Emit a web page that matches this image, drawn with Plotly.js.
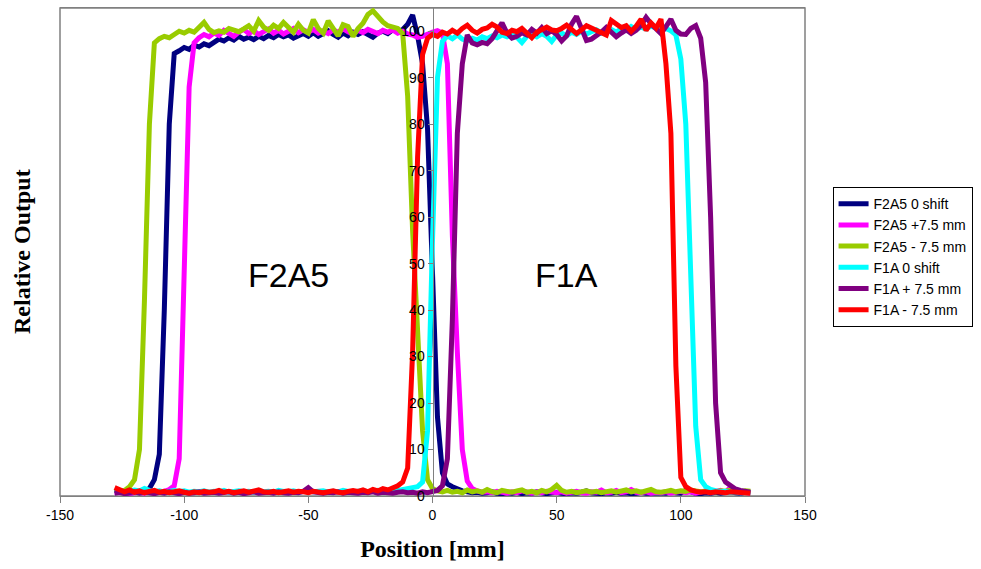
<!DOCTYPE html>
<html>
<head>
<meta charset="utf-8">
<script src="https://cdn.plot.ly/plotly-3.0.1.min.js"></script>
<style>
  html, body { margin: 0; padding: 0; background: #fff; }
  #chart { width: 981px; height: 569px; }
</style>
</head>
<body>
<div id="chart"></div>
<script>
// Measurement positions along the profile (mm)
const positions = [
  -128,-126,-124,-122,-120,-118,-116,-114,-112,-110,
  -108,-106,-104,-102,-100,-98,-96,-94,-92,-90,
  -88,-86,-84,-82,-80,-78,-76,-74,-72,-70,
  -68,-66,-64,-62,-60,-58,-56,-54,-52,-50,
  -48,-46,-44,-42,-40,-38,-36,-34,-32,-30,
  -28,-26,-24,-22,-20,-18,-16,-14,-12,-10,
  -8,-6,-4,-2,0,2,4,6,8,10,
  12,14,16,18,20,22,24,26,28,30,
  32,34,36,38,40,42,44,46,48,50,
  52,54,56,58,60,62,64,66,68,70,
  72,74,76,78,80,82,84,86,88,90,
  92,94,96,98,100,102,104,106,108,110,
  112,114,116,118,120,122,124,126,128
];

// F2A5 field, no couch shift
const f2a5Zero = [
  1.2, 0.9, 0.7, 0.6, 0.8, 0.9, 1.1, 1.6, 3.5, 9,
  40, 80, 95.2, 95.8, 96.5, 96.1, 97.0, 96.6, 97.3, 96.9,
  97.6, 98.3, 97.9, 98.6, 98.1, 98.9, 98.3, 98.7, 98.2, 98.9,
  98.4, 99.1, 98.6, 99.3, 98.8, 99.2, 98.5, 99.0, 99.5, 98.9,
  99.7, 98.9, 99.5, 100.1, 99.3, 98.7, 99.6, 99.0, 99.8, 99.3,
  99.9, 99.4, 98.7, 99.6, 100.0, 99.5, 100.3, 99.8, 100.4, 101.5,
  103.5, 99, 93, 79, 47, 17, 5, 2.6, 2.0, 1.5,
  1.1, 0.9, 0.7, 0.8, 0.6, 0.7, 0.9, 0.6, 0.5, 0.7,
  0.6, 0.8, 0.5, 0.7, 0.6, 0.9, 0.6, 0.5, 0.7, 0.8,
  0.6, 0.5, 0.7, 0.6, 0.8, 1.1, 0.7, 0.6, 0.5, 0.7,
  0.6, 0.8, 0.6, 0.7, 0.5, 0.6, 0.8, 0.6, 0.7, 0.6,
  0.7, 0.6, 0.9, 0.7, 0.6, 1.2, 0.8, 0.6, 0.5, 0.7,
  0.6, 0.8, 0.6, 0.7, 0.9, 0.7, 0.6, 0.8, 0.7
];

// F2A5 field, +7.5 mm shift
const f2a5Plus = [
  0.8, 0.7, 0.9, 0.6, 0.7, 0.8, 0.6, 0.9, 0.7, 0.8,
  1.0, 1.4, 2.2, 8, 45, 88, 97.5, 98.6, 99.3, 98.8,
  99.6, 99.1, 100.2, 99.4, 98.9, 99.8, 100.4, 99.5, 100.1, 99.3,
  99.9, 100.5, 99.6, 100.2, 99.4, 100.0, 100.6, 99.7, 100.3, 99.8,
  100.4, 99.6, 100.1, 99.5, 100.3, 99.8, 100.5, 99.9, 99.4, 100.2,
  99.7, 100.4, 100.0, 99.5, 100.2, 99.8, 100.3, 99.6, 100.0, 99.4,
  99.2, 98.7, 98.9, 99.5, 99.8, 100.1, 99.6, 93, 56, 31,
  10, 3.2, 1.6, 1.1, 0.8, 0.9, 0.7, 1.0, 0.8, 0.6,
  0.9, 0.7, 1.1, 0.8, 0.6, 0.9, 0.7, 1.0, 0.8, 0.7,
  0.9, 0.6, 0.8, 1.0, 0.7, 0.6, 0.9, 0.8, 1.3, 0.7,
  0.8, 1.2, 0.7, 0.9, 1.4, 0.8, 0.7, 0.9, 0.6, 0.8,
  0.7, 0.9, 0.6, 0.8, 1.0, 0.7, 0.9, 0.6, 0.8, 1.1,
  0.7, 0.9, 1.2, 0.8, 1.9, 1.0, 0.7, 0.8, 0.6
];

// F2A5 field, -7.5 mm shift
const f2a5Minus = [
  1.4, 1.1, 1.2, 2.0, 3.5, 10, 42, 80, 97.5, 98.4,
  98.9, 98.6, 99.3, 100.0, 99.6, 100.2, 99.8, 101.0, 101.9, 100.4,
  99.7, 100.1, 99.8, 100.6, 100.3, 99.9, 100.5, 101.2, 100.0, 102.3,
  100.9, 100.2, 101.3, 100.6, 101.9, 100.9, 99.8, 101.5, 100.2, 99.6,
  102.5, 100.6, 99.6, 102.2, 100.8, 99.0, 101.4, 101.0, 98.9, 100.6,
  101.7, 103.6, 104.4, 103.0, 102.0, 101.2, 100.8, 100.6, 99.5, 86,
  57, 34, 14, 3.5, 1.6, 1.1, 0.9, 1.2, 0.8, 1.0,
  0.7, 1.3, 0.9, 1.1, 0.8, 1.4, 0.9, 0.7, 1.2, 1.0,
  0.8, 1.1, 1.3, 0.8, 1.0, 0.7, 1.2, 0.9, 1.4, 2.3,
  1.2, 0.8, 1.0, 0.7, 0.9, 1.1, 0.8, 1.0, 0.7, 0.9,
  1.1, 0.8, 1.0, 1.3, 0.9, 1.1, 0.8, 1.0, 1.4, 0.9,
  0.8, 1.0, 1.2, 0.9, 1.1, 1.0, 1.3, 1.1, 0.9, 1.0,
  1.2, 0.9, 1.1, 1.0, 1.3, 1.0, 0.9, 1.1, 1.0
];

// F1A field, no couch shift
const f1aZero = [
  0.9, 1.2, 0.8, 1.0, 1.3, 1.1, 1.6, 1.2, 0.9, 1.1,
  0.8, 1.0, 1.2, 0.9, 1.1, 0.8, 1.0, 0.9, 1.1, 0.8,
  1.0, 0.9, 1.2, 0.8, 1.0, 1.1, 0.9, 1.0, 0.8, 1.1,
  0.9, 1.0, 0.8, 1.2, 1.0, 0.9, 1.1, 0.8, 1.0, 1.2,
  0.9, 1.0, 1.1, 0.8, 1.0, 0.9, 1.2, 1.0, 0.8, 1.0,
  1.1, 0.9, 1.0, 1.2, 0.9, 1.1, 1.0, 1.2, 1.3, 1.5,
  1.6, 2.0, 3.0, 14, 55, 90, 97.8, 99.0, 98.4, 99.2,
  98.3, 97.9, 98.5, 98.1, 98.8, 98.4, 99.0, 98.6, 99.2, 98.8,
  99.3, 98.7, 97.6, 98.9, 99.4, 98.8, 99.5, 98.9, 97.8, 99.2,
  99.6, 99.0, 99.8, 99.3, 100.0, 99.4, 99.9, 100.3, 99.6, 100.1,
  100.4, 99.8, 100.6, 100.2, 101.0, 100.4, 100.9, 100.5, 101.1, 100.7,
  101.2, 100.6, 100.1, 99.2, 94, 80, 45, 15, 3.5, 2.0,
  1.4, 1.1, 0.9, 1.0, 0.8, 0.9, 0.7, 0.8, 0.7
];

// F1A field, +7.5 mm shift
const f1aPlus = [
  0.6, 0.8, 0.5, 0.7, 0.9, 0.6, 0.8, 0.7, 0.5, 0.8,
  0.6, 0.9, 0.7, 0.5, 0.8, 0.6, 0.7, 0.9, 0.6, 0.7,
  0.8, 0.6, 0.7, 0.9, 0.6, 0.8, 0.5, 0.7, 0.9, 0.6,
  0.7, 0.8, 0.6, 0.9, 0.7, 0.6, 0.8, 0.7, 1.0, 1.8,
  0.9, 0.7, 0.6, 0.8, 0.7, 0.9, 0.6, 0.8, 0.7, 0.6,
  0.8, 0.7, 0.9, 0.6, 0.8, 0.7, 0.6, 0.8, 0.9, 0.7,
  0.8, 0.6, 0.9, 0.7, 0.9, 1.2, 2.2, 8, 38, 78,
  93, 99.2, 97.5, 97.1, 97.6, 97.3, 98.4, 100.2, 101.8, 99.6,
  98.5, 98.9, 99.7, 99.2, 100.4, 99.6, 100.8, 99.5, 100.1, 99.3,
  97.9, 99.0, 101.5, 103.2, 100.4, 98.0, 98.3, 98.9, 99.8, 100.8,
  99.9, 98.8, 99.6, 100.3, 99.5, 100.2, 101.3, 103.0, 101.6, 100.4,
  99.5, 101.0, 102.6, 100.2, 99.4, 99.3, 100.6, 101.2, 98.5, 89,
  60, 20, 5, 3.0, 2.1, 1.5, 1.2, 0.9, 0.8
];

// F1A field, -7.5 mm shift
const f1aMinus = [
  1.8, 1.2, 0.9, 1.3, 0.8, 1.1, 0.7, 1.0, 1.2, 0.8,
  1.0, 0.7, 0.9, 1.1, 0.8, 0.6, 0.9, 0.7, 1.0, 0.8,
  0.9, 1.2, 0.8, 1.0, 0.7, 0.9, 1.1, 0.8, 1.0, 1.3,
  0.9, 0.8, 1.0, 0.7, 0.9, 1.1, 0.8, 1.0, 0.9, 0.7,
  1.0, 0.8, 0.7, 0.9, 1.1, 0.8, 0.7, 1.0, 1.2, 1.0,
  1.3, 0.9, 1.4, 1.1, 1.6, 1.3, 1.8, 2.2, 3.0, 6,
  31, 73, 95, 98.5, 99.3, 98.9, 99.8, 99.4, 100.2, 99.6,
  100.6, 101.3, 100.2, 99.6, 100.4, 100.7, 101.5, 100.9, 99.8, 99.5,
  100.2, 99.9, 100.6, 99.4, 98.6, 99.8, 100.5, 100.9, 100.3, 100.1,
  100.6, 101.3, 100.4, 99.5, 100.3, 101.2, 100.7, 100.2, 99.6, 99.2,
  102.3, 101.4, 100.8, 101.2, 100.0, 101.1, 102.6, 100.2, 101.8, 100.7,
  102.6, 93, 78, 28, 4, 2.0, 1.3, 1.0, 0.8, 0.9,
  0.7, 0.9, 0.8, 0.7, 0.9, 0.8, 0.7, 0.8, 0.6
];

const seriesNames = [
  'F2A5 0 shift', 'F2A5 +7.5 mm', 'F2A5 - 7.5 mm',
  'F1A 0 shift', 'F1A + 7.5 mm', 'F1A - 7.5 mm'
];
const seriesValues = [f2a5Zero, f2a5Plus, f2a5Minus, f1aZero, f1aPlus, f1aMinus];
const seriesColors = ['#000080', '#FF00FF', '#99CC00', '#00FFFF', '#800080', '#FF0000'];

const xTicks = [-150, -100, -50, 0, 50, 100, 150];
const yTicks = [0, 10, 20, 30, 40, 50, 60, 70, 80, 90, 100];

const fieldLabels = ['F2A5', 'F1A'];
const fieldLabelX = [-58, 54];
const fieldLabelY = [47.5, 47.5];

const sans = 'Liberation Sans, Arial, sans-serif';
const serif = 'Liberation Serif, Times New Roman, serif';
const axisGrey = '#808080';

const traces = seriesValues.map((vals, i) => ({
  type: 'scatter',
  mode: 'lines',
  name: seriesNames[i],
  x: positions,
  y: vals,
  line: { color: seriesColors[i], width: 5 },
  hoverinfo: 'skip'
}));

const annotations = fieldLabels.map((t, i) => ({
  text: t, x: fieldLabelX[i], y: fieldLabelY[i],
  xref: 'x', yref: 'y', showarrow: false,
  font: { family: sans, size: 34, color: '#000' }
}));

annotations.push({
  text: 'Relative Output', xref: 'paper', yref: 'paper',
  x: -0.051, y: 0.5, xanchor: 'center', yanchor: 'middle',
  textangle: -90, showarrow: false,
  font: { family: serif, size: 24, weight: 'bold', color: '#000' }
});

const layout = {
  width: 981,
  height: 569,
  margin: { l: 60, r: 171, t: 8, b: 73 },
  paper_bgcolor: '#ffffff',
  plot_bgcolor: '#ffffff',
  showlegend: true,
  legend: {
    x: 1.037, y: 0.633, xanchor: 'left', yanchor: 'top',
    bgcolor: '#ffffff', bordercolor: '#000000', borderwidth: 1,
    font: { family: sans, size: 14, color: '#000' },
    traceorder: 'normal', itemwidth: 30
  },
  xaxis: {
    range: [-150, 150],
    tickvals: xTicks,
    ticktext: xTicks.map(String),
    ticks: 'outside', ticklen: 6, tickcolor: axisGrey,
    showgrid: false, zeroline: false,
    showline: true, linecolor: axisGrey, linewidth: 1, mirror: true,
    tickfont: { family: sans, size: 14, color: '#000' },
    title: {
      text: 'Position [mm]', standoff: 18,
      font: { family: serif, size: 24, weight: 'bold', color: '#000' }
    }
  },
  yaxis: {
    range: [0, 105],
    anchor: 'free', position: 0.5,
    tickvals: yTicks,
    ticktext: yTicks.map(String),
    ticks: 'outside', ticklen: 5, tickcolor: axisGrey,
    showgrid: false, zeroline: false,
    showline: true, linecolor: axisGrey, linewidth: 1,
    tickfont: { family: sans, size: 14, color: '#000' }
  },
  shapes: [{
    type: 'rect', xref: 'paper', yref: 'paper',
    x0: 0, x1: 1, y0: 0, y1: 1,
    line: { color: axisGrey, width: 1.5 }, layer: 'below'
  }],
  annotations: annotations
};

Plotly.newPlot('chart', traces, layout, { displayModeBar: false, staticPlot: true });
</script>
</body>
</html>
